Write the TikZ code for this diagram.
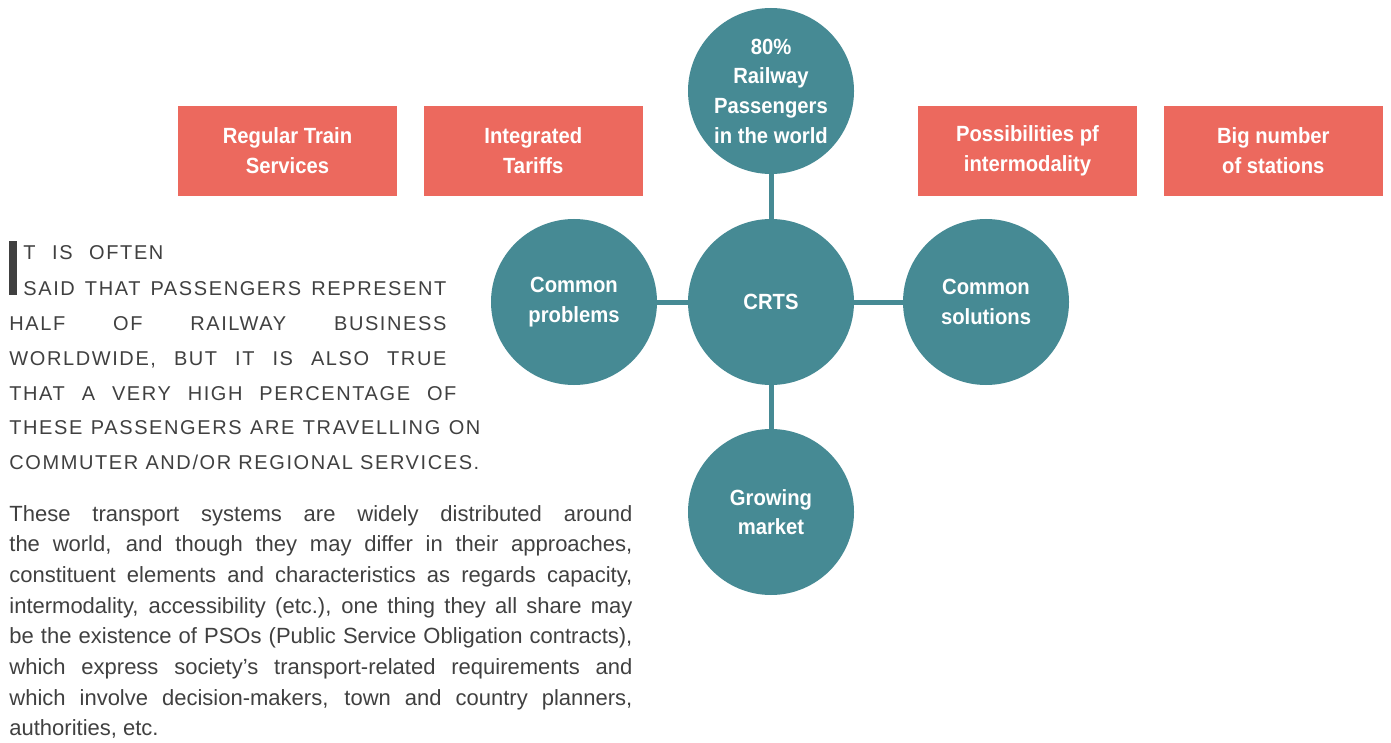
\documentclass[tikz,border=0pt]{standalone}
\usepackage{fontspec}
\setmainfont{Liberation Sans}
\newfontfamily\capsfont{Liberation Sans}[LetterSpace=8]
\newfontfamily\narrowfont{Liberation Sans}[FakeStretch=0.92]
\usepackage{tikz}
\usetikzlibrary{positioning}
\definecolor{crtsteal}{HTML}{468A94}
\definecolor{crtscoral}{HTML}{EC695E}
\definecolor{crtsgrey}{HTML}{404040}
\newcommand{\jline}[2]{\makebox[#1][s]{#2}}

\begin{document}
\begin{tikzpicture}[x=0.5pt,y=-0.5pt,
  bubble/.style={circle,fill=crtsteal,minimum size=83pt,inner sep=0pt,text=white,align=center,
    font=\narrowfont\bfseries\fontsize{11}{14.85}\selectfont},
  tag/.style={rectangle,fill=crtscoral,minimum width=109.5pt,minimum height=45pt,inner sep=0pt,text=white,align=center,
    font=\narrowfont\bfseries\fontsize{11}{15}\selectfont},
  link/.style={draw=crtsteal,line width=2.5pt},
  capsline/.style={anchor=base west,inner sep=0pt,text=crtsgrey,font=\capsfont\fontsize{10}{12}\selectfont},
  bodyline/.style={anchor=base west,inner sep=0pt,text=crtsgrey,font=\fontsize{11}{13}\selectfont}]

\useasboundingbox (0,0) rectangle (1391,743);

\node (regular) at (287.5,151)[tag] {Regular Train\\Services};
\node (tariffs) [tag,right=13pt of regular] {Integrated\\Tariffs};
\node (intermod) at (1027.5,151)[tag] {Possibilities pf\\intermodality};
\node (stations) [tag,right=13pt of intermod] {Big number\\of stations};

\node (top) at (771,91)[bubble] {80\%\\Railway\\Passengers\\in the world};
\node (crts) at (771,302)[bubble] {CRTS};
\node (problems) at (574,302)[bubble] {Common\\problems};
\node (solutions) at (986,302)[bubble] {Common\\solutions};
\node (market) at (771,512)[bubble] {Growing\\market};
\draw [link] (crts) -- (top);
\draw [link] (crts) -- (problems);
\draw [link] (crts) -- (solutions);
\draw [link] (crts) -- (market);

\fill [crtsgrey] (9,241) rectangle (17,295);
\node (c1) at (23,260)[capsline] {\jline{70pt}{T IS OFTEN}};
\node (c2) at (23,295)[capsline] {\jline{211.5pt}{SAID THAT PASSENGERS REPRESENT}};
\node (c3) at (9,330)[capsline] {\jline{218.5pt}{HALF OF RAILWAY BUSINESS}};
\node (c4) at (9,365)[capsline] {\jline{218.5pt}{WORLDWIDE, BUT IT IS ALSO TRUE}};
\node (c5) at (9,400)[capsline] {\jline{223.5pt}{THAT A VERY HIGH PERCENTAGE OF}};
\node (c6) at (9,434.5)[capsline] {\jline{235.5pt}{THESE PASSENGERS ARE TRAVELLING ON}};
\node (c7) at (9,469.5)[capsline] {COMMUTER AND/OR REGIONAL SERVICES.};

\node (b1) at (9,521)[bodyline] {\jline{311.5pt}{These transport systems are widely distributed around}};
\node (b2) at (9,551.7)[bodyline] {\jline{311.5pt}{the world, and though they may differ in their approaches,}};
\node (b3) at (9,582.4)[bodyline] {\jline{311.5pt}{constituent elements and characteristics as regards capacity,}};
\node (b4) at (9,613.1)[bodyline] {\jline{311.5pt}{intermodality, accessibility (etc.), one thing they all share may}};
\node (b5) at (9,643.8)[bodyline] {\jline{311.5pt}{be the existence of PSOs (Public Service Obligation contracts),}};
\node (b6) at (9,674.5)[bodyline] {\jline{311.5pt}{which express society’s transport-related requirements and}};
\node (b7) at (9,705.2)[bodyline] {\jline{311.5pt}{which involve decision-makers, town and country planners,}};
\node (b8) at (9,735.9)[bodyline] {authorities, etc.};
\end{tikzpicture}
\end{document}
